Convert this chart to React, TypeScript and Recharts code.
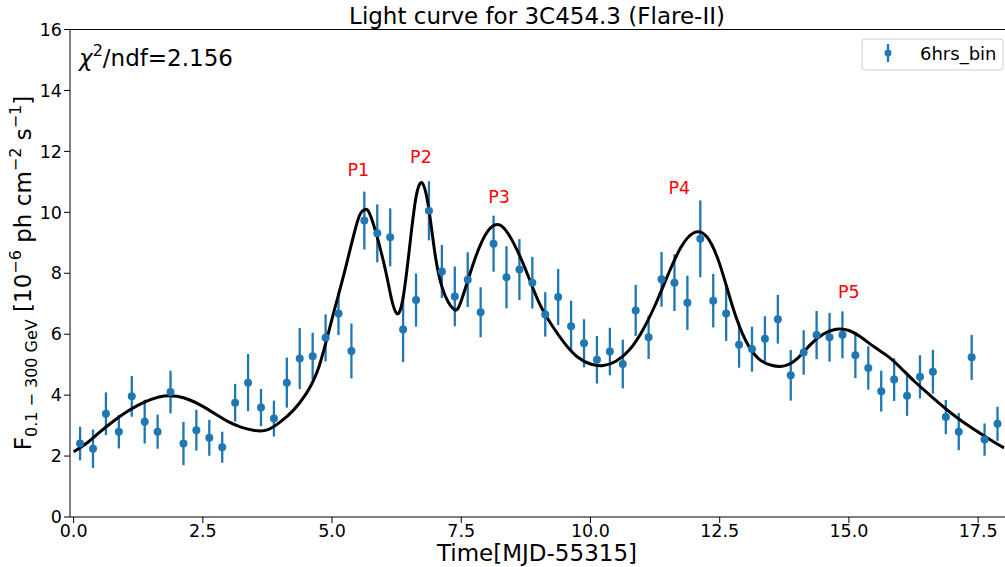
import React from "react";
import { ComposedChart, Line, Scatter, XAxis, YAxis, ErrorBar, ReferenceLine } from "recharts";

// 6 hr bins, MJD-55315
const binTime = [
  0.125, 0.375, 0.625, 0.875, 1.125, 1.375, 1.625, 1.875, 2.125, 2.375, 2.625, 2.875,
  3.125, 3.375, 3.625, 3.875, 4.125, 4.375, 4.625, 4.875, 5.125, 5.375, 5.625, 5.875,
  6.125, 6.375, 6.625, 6.875, 7.125, 7.375, 7.625, 7.875, 8.125, 8.375, 8.625, 8.875,
  9.125, 9.375, 9.625, 9.875, 10.125, 10.375, 10.625, 10.875, 11.125, 11.375, 11.625, 11.875,
  12.125, 12.375, 12.625, 12.875, 13.125, 13.375, 13.625, 13.875, 14.125, 14.375, 14.625, 14.875,
  15.125, 15.375, 15.625, 15.875, 16.125, 16.375, 16.625, 16.875, 17.125, 17.375, 17.625, 17.875,
];
const binFlux = [
  2.41, 2.24, 3.39, 2.8, 3.96, 3.13, 2.8, 4.1, 2.41, 2.85, 2.6, 2.29,
  3.75, 4.41, 3.59, 3.23, 4.41, 5.2, 5.28, 5.88, 6.68, 5.45, 9.73, 9.31,
  9.18, 6.15, 7.12, 10.05, 8.06, 7.24, 7.79, 6.72, 8.97, 7.87, 8.12, 7.69,
  6.65, 7.22, 6.26, 5.7, 5.16, 5.43, 5.02, 6.78, 5.9, 7.8, 7.69, 7.03,
  9.13, 7.1, 6.68, 5.65, 5.51, 5.85, 6.49, 4.65, 5.4, 5.97, 5.9, 5.98,
  5.31, 4.89, 4.13, 4.51, 3.98, 4.6, 4.77, 3.28, 2.8, 5.24, 2.54, 3.06,
];
const binErr = [
  0.55, 0.63, 0.7, 0.55, 0.67, 0.72, 0.56, 0.7, 0.71, 0.67, 0.59, 0.51,
  0.62, 0.94, 0.61, 0.59, 0.82, 1.0, 0.77, 0.77, 0.71, 0.9, 0.95, 0.95,
  0.95, 1.07, 0.87, 0.97, 0.87, 0.98, 0.9, 0.82, 0.92, 1.02, 1.0, 0.85,
  0.73, 0.92, 0.84, 0.79, 0.78, 0.78, 0.8, 0.84, 0.71, 0.9, 0.93, 0.89,
  1.26, 0.88, 0.9, 0.75, 0.74, 0.74, 0.8, 0.83, 0.73, 0.79, 0.8, 0.77,
  0.75, 0.71, 0.67, 0.7, 0.66, 0.71, 0.72, 0.56, 0.61, 0.74, 0.53, 0.56,
];

// fitted curve
const fitTime = [
  0, 0.25, 0.5, 0.75, 1, 1.25, 1.5, 1.75, 2, 2.25, 2.5, 2.75, 3, 3.25, 3.5, 3.75,
  4, 4.25, 4.5, 4.75, 5, 5.25, 5.5, 5.625, 5.75, 6, 6.125, 6.25, 6.375, 6.5, 6.625,
  6.75, 6.875, 7, 7.125, 7.25, 7.375, 7.5, 7.75, 8, 8.25, 8.5, 8.75, 9, 9.25, 9.5,
  9.75, 10, 10.25, 10.5, 10.75, 11, 11.25, 11.5, 11.75, 12, 12.25, 12.5, 12.75, 13,
  13.25, 13.5, 13.75, 14, 14.25, 14.5, 14.75, 15, 15.25, 15.5, 15.75, 16, 16.25,
  16.5, 16.75, 17, 17.25, 17.5, 17.75, 18,
];
const fitFlux = [
  2.14, 2.42, 2.78, 3.12, 3.42, 3.67, 3.86, 3.97, 3.96, 3.84, 3.63, 3.37, 3.12, 2.94, 2.84, 2.86,
  3.12, 3.5, 4.05, 4.95, 6.5, 8.1, 9.75, 10.08, 9.86, 8.35, 7.35, 6.68, 7.2, 8.85, 10.5,
  10.95, 10.08, 8.55, 7.56, 7.05, 6.8, 7.1, 8.4, 9.35, 9.58, 9.03, 8.1, 7.05, 6.3, 5.7,
  5.25, 5.02, 4.97, 5.12, 5.48, 6.1, 6.95, 7.95, 8.85, 9.33, 9.2, 8.3, 6.9, 5.8,
  5.2, 4.98, 4.96, 5.2, 5.65, 6.0, 6.16, 6.12, 5.88, 5.57, 5.28, 4.9, 4.48,
  4.1, 3.73, 3.38, 3.07, 2.79, 2.52, 2.27,
];

const peakNames = ["P1", "P2", "P3", "P4", "P5"];
const peakTime = [5.51, 6.72, 8.23, 11.72, 15.0];
const peakFlux = [11.39, 11.8, 10.49, 10.79, 7.39];

const xTicks = [0, 2.5, 5, 7.5, 10, 12.5, 15, 17.5];
const yTicks = [0, 2, 4, 6, 8, 10, 12, 14, 16];

const binData = binTime.map((x, i) => ({ x, y: binFlux[i], err: binErr[i] }));
const fitData = fitTime.map((x, i) => ({ x, y: fitFlux[i] }));
const peakData = peakTime.map((x, i) => ({ x, y: peakFlux[i], name: peakNames[i] }));

const FONT = "DejaVu Sans, sans-serif";
const BLUE = "#1f77b4";

export default function App() {
  return (
    <div style={{ position: "absolute", left: 0, top: 0, width: 1005, height: 567, background: "#fff", fontFamily: FONT }}>
      <ComposedChart width={1005} height={567} margin={{ top: 29.5, right: 0, left: 0, bottom: 0 }}>
        <XAxis
          type="number"
          dataKey="x"
          domain={[-0.07, 18.02]}
          ticks={xTicks}
          allowDataOverflow
          tickFormatter={(v: number) => v.toFixed(1)}
          height={50}
          tickSize={6}
          stroke="#000"
          tick={{ fill: "#000", fontSize: 17.5, fontFamily: FONT }}
        />
        <YAxis
          type="number"
          domain={[0, 16]}
          ticks={yTicks}
          allowDataOverflow
          width={70}
          tickSize={6}
          stroke="#000"
          tick={{ fill: "#000", fontSize: 17.5, fontFamily: FONT }}
        />
        <ReferenceLine y={16} stroke="#000" />
        <Scatter
          data={binData}
          dataKey="y"
          isAnimationActive={false}
          shape={(p: any) => <circle cx={p.cx} cy={p.cy} r={4} fill={BLUE} />}
        >
          <ErrorBar dataKey="err" direction="y" width={0} stroke={BLUE} strokeWidth={2.3} isAnimationActive={false} />
        </Scatter>
        <Line
          data={fitData}
          dataKey="y"
          type="natural"
          stroke="#000"
          strokeWidth={3}
          dot={false}
          activeDot={false}
          isAnimationActive={false}
        />
        <Scatter
          data={peakData}
          dataKey="y"
          isAnimationActive={false}
          shape={(p: any) => (
            <text x={p.cx} y={p.cy} textAnchor="middle" dominantBaseline="central" fill="red" fontSize={17.5} fontFamily={FONT}>
              {p.payload.name}
            </text>
          )}
        />
      </ComposedChart>
      <svg width={1005} height={567} style={{ position: "absolute", left: 0, top: 0, pointerEvents: "none" }} fontFamily={FONT}>
        <text x={537} y={24} textAnchor="middle" fontSize={23} fill="#000">
          Light curve for 3C454.3 (Flare-II)
        </text>
        <text x={79} y={66} fontSize={23} fill="#000">
          <tspan fontStyle="italic">χ</tspan>
          <tspan dy={-10} fontSize={16}>2</tspan>
          <tspan dy={10}>/ndf=2.156</tspan>
        </text>
        <text x={537} y={561} textAnchor="middle" fontSize={23} fill="#000">
          Time[MJD-55315]
        </text>
        <text transform="translate(31,273) rotate(-90)" textAnchor="middle" fontSize={23} fill="#000">
          F<tspan dy={6} fontSize={16}>0.1 − 300 GeV</tspan>
          <tspan dy={-6}> [10</tspan>
          <tspan dy={-10} fontSize={16}>−6</tspan>
          <tspan dy={10}> ph cm</tspan>
          <tspan dy={-10} fontSize={16}>−2</tspan>
          <tspan dy={10}> s</tspan>
          <tspan dy={-10} fontSize={16}>−1</tspan>
          <tspan dy={10}>]</tspan>
        </text>
        <rect x={862} y={39} width={141} height={31} rx={3} fill="#fff" fillOpacity={0.8} stroke="#ccc" />
        <line x1={888} y1={44} x2={888} y2={62} stroke={BLUE} strokeWidth={2.3} />
        <circle cx={888} cy={53} r={3.5} fill={BLUE} />
        <text x={920} y={60} fontSize={18} fill="#000">
          6hrs_bin
        </text>
      </svg>
    </div>
  );
}
